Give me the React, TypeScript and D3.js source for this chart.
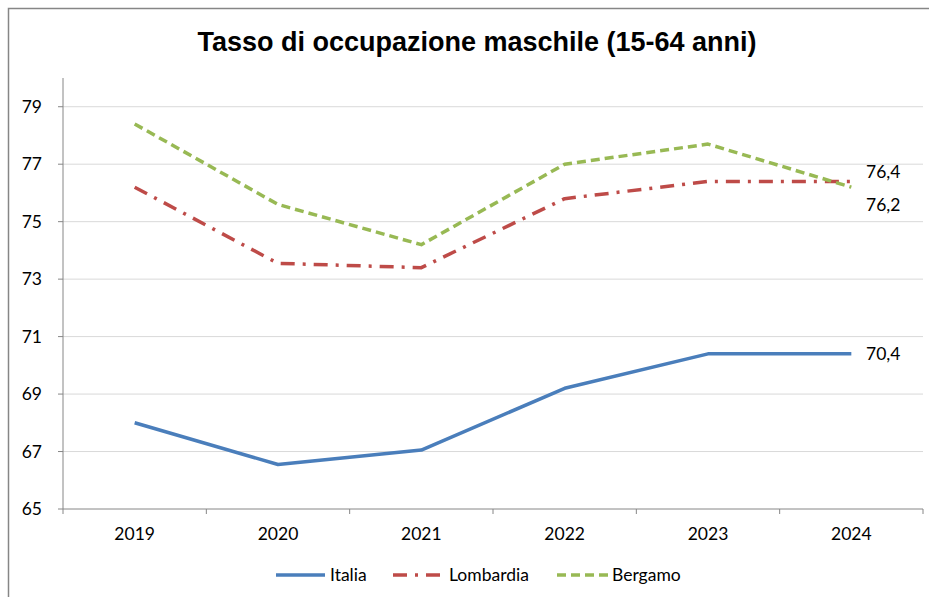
import React from 'react';
import * as d3 from 'd3';

const years = ['2019', '2020', '2021', '2022', '2023', '2024'];
const italia = [68.0, 66.55, 67.05, 69.2, 70.4, 70.4];
const lombardia = [76.2, 73.55, 73.4, 75.8, 76.4, 76.4];
const bergamo = [78.4, 75.6, 74.2, 77.0, 77.7, 76.2];
const yTicks = [65, 67, 69, 71, 73, 75, 77, 79];

const series = [
  { name: 'Italia', values: italia, color: '#4a7ebb', dash: null, label: '70,4', labelDy: 6 },
  { name: 'Lombardia', values: lombardia, color: '#be4b48', dash: '14,8,3,8', label: '76,4', labelDy: -3 },
  { name: 'Bergamo', values: bergamo, color: '#98b954', dash: '9,5', label: '76,2', labelDy: 24 },
];

export default function App() {
  const W = 929, H = 597;
  const left = 63, right = 923, top = 78, bottom = 509;

  const x = d3.scaleBand().domain(years).range([left, right]);
  const y = d3.scaleLinear().domain([65, 80]).range([bottom, top]);
  const cx = (d: string) => (x(d) as number) + x.bandwidth() / 2;

  const line = d3.line<number>()
    .x((_, i) => cx(years[i]))
    .y(d => y(d));

  const font = 'Lato, "Open Sans", sans-serif';
  const fs = 17.5;
  const boundaries = years.map(d => x(d) as number).concat([right]);

  const legend = [
    { s: series[0], x0: 276, x1: 325, tx: 330 },
    { s: series[1], x0: 393, x1: 447, tx: 449 },
    { s: series[2], x0: 557, x1: 609, tx: 612 },
  ];

  return (
    <svg width={W} height={H} style={{ position: 'absolute', left: 0, top: 0, background: '#fff' }}>
      <rect x={8.5} y={8.5} width={W + 20} height={H + 20} fill="#fff" stroke="#868686" strokeWidth={1.5} />
      <text x={477} y={51} textAnchor="middle" fontFamily='"Liberation Sans", Arial, sans-serif'
        fontWeight="bold" fontSize={27} fill="#000">Tasso di occupazione maschile (15-64 anni)</text>

      {yTicks.slice(1).map(t => (
        <line key={t} x1={left} x2={right} y1={y(t)} y2={y(t)} stroke="#d9d9d9" strokeWidth={1} />
      ))}
      <line x1={left} x2={left} y1={top} y2={bottom} stroke="#868686" />
      <line x1={left} x2={right} y1={bottom} y2={bottom} stroke="#868686" />
      {yTicks.map(t => (
        <g key={t}>
          <line x1={left - 5} x2={left} y1={y(t)} y2={y(t)} stroke="#868686" />
          <text x={42} y={y(t) + 6} textAnchor="end" fontFamily={font} fontSize={fs} fill="#000">{t}</text>
        </g>
      ))}
      {boundaries.map((b, i) => (
        <line key={i} x1={b} x2={b} y1={bottom} y2={bottom + 5} stroke="#868686" />
      ))}
      {years.map(d => (
        <text key={d} x={cx(d)} y={540} textAnchor="middle" fontFamily={font} fontSize={fs} fill="#000">{d}</text>
      ))}

      {series.map(s => (
        <path key={s.name} d={line(s.values) || ''} fill="none" stroke={s.color} strokeWidth={3.5}
          strokeDasharray={s.dash || undefined} strokeLinejoin="round" />
      ))}
      {series.map(s => (
        <text key={s.name + 'l'} x={866} y={y(s.values[5]) + s.labelDy} fontFamily={font} fontSize={fs} fill="#000">{s.label}</text>
      ))}

      {legend.map(l => (
        <g key={l.s.name}>
          <line x1={l.x0} x2={l.x1} y1={575} y2={575} stroke={l.s.color} strokeWidth={3.5}
            strokeDasharray={l.s.dash || undefined} />
          <text x={l.tx} y={581} fontFamily={font} fontSize={fs} fill="#000">{l.s.name}</text>
        </g>
      ))}
    </svg>
  );
}
